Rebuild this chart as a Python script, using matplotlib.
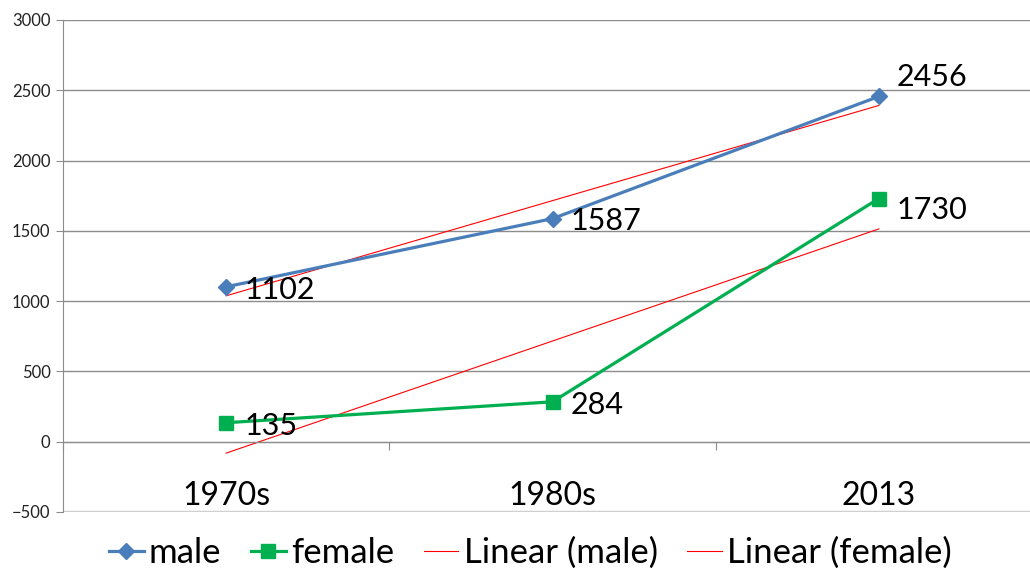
import numpy as np
import matplotlib
matplotlib.use("Agg")
import matplotlib.pyplot as plt

plt.rcParams['font.family'] = ['Lato', 'DejaVu Sans']

# data ----------------------------------------------------------------------
categories = ["1970s", "1980s", "2013"]
male = [1102, 1587, 2456]
female = [135, 284, 1730]
yticks = [-500, 0, 500, 1000, 1500, 2000, 2500, 3000]

x = np.arange(len(categories))
grid_col = "#8c8c8c"

fig = plt.figure(figsize=(10.3, 5.72), dpi=100)
# axes: x 63..1042 px, y 20..512 px
ax = fig.add_axes([63 / 1030, 1 - 512 / 572, (1042 - 63) / 1030, (512 - 20) / 572])

ax.set_xlim(-0.5, 2.5)
ax.set_ylim(-500, 3000)
ax.set_yticks(yticks)
ax.yaxis.grid(True, color=grid_col, lw=1)
ax.set_axisbelow(True)
ax.axhline(-500, color="#d0d0d0", lw=2.5, zorder=1.5)

for s in ["top", "right"]:
    ax.spines[s].set_visible(False)
ax.spines["left"].set_color(grid_col)
ax.spines["bottom"].set_position(("data", 0))
ax.spines["bottom"].set_color(grid_col)

ax.tick_params(axis="y", colors=grid_col, length=5, pad=4, labelcolor="#222222", labelsize=12)
ax.set_xticks([-0.5, 0.5, 1.5, 2.5])
ax.set_xticklabels([])
ax.tick_params(axis="x", which="major", colors=grid_col, length=6, direction="out")
ax.set_xticks(x, minor=True)
ax.set_xticklabels(categories, minor=True)
ax.tick_params(axis="x", which="minor", length=0, pad=28, labelsize=23, labelcolor="black")

# series
ax.plot(x, male, color="#4A7EBB", lw=2.3, marker="D", ms=8, label="male", zorder=3)
ax.plot(x, female, color="#00B050", lw=2.3, marker="s", ms=10, label="female", zorder=3)

# linear trendlines
for vals, name in [(male, "male"), (female, "female")]:
    k, b = np.polyfit(x, vals, 1)
    ax.plot(x, k * x + b, color="#FF0000", lw=0.8, label=f"Linear ({name})", zorder=2)

# data labels (right of point, a couple nudged like in the original)
nudge = {2456: 14, 1730: -8}
for vals in (male, female):
    for xi, v in zip(x, vals):
        ax.annotate(str(v), (xi, v), xytext=(13, nudge.get(v, -2)), textcoords="offset points",
                    ha="left", va="center", fontsize=22, color="black", zorder=4)

fig.legend(loc="center", bbox_to_anchor=(0.515, 1 - 553 / 572), ncol=4, frameon=False,
           fontsize=25, handlelength=1.0, handletextpad=0.15, columnspacing=0.85)

fig.savefig("out.png", dpi=100)
